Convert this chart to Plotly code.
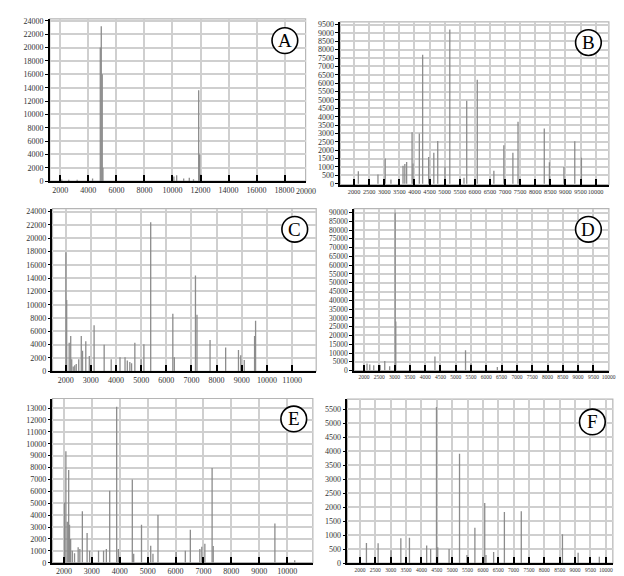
import plotly.graph_objects as go

# ---------------- data (m/z, intensity) ----------------
a_mz = [2100, 2600, 3200, 4000, 4300, 4850, 4920, 4990, 5040, 10100, 10300, 10800, 11200, 11500, 11870, 11940, 12010]
a_int = [250, 200, 200, 700, 400, 20000, 23200, 16000, 2000, 700, 900, 400, 500, 300, 13600, 4000, 1000]

b_mz = [2140, 2790, 3030, 3220, 3620, 3680, 3740, 3920, 3950, 4160, 4270, 4470, 4640, 4770, 5010, 5170,
        5640, 5730, 6080, 6630, 6960, 7260, 7430, 8300, 8470, 8950, 9310, 9530]
b_int = [740, 550, 1500, 250, 1070, 1180, 1300, 3070, 1200, 3000, 7700, 1600, 1850, 2550, 1030, 9200,
         350, 4950, 6200, 780, 2300, 1850, 3700, 3300, 1280, 1000, 2530, 1550]

c_mz = [2010, 2040, 2140, 2200, 2240, 2300, 2360, 2420, 2520, 2620, 2670, 2800, 2940, 3130, 3530, 3810,
        4160, 4360, 4450, 4550, 4620, 4750, 5000, 5110, 5380, 6260, 6320, 7160, 7220, 7740, 8360, 8870,
        8960, 9100, 9510, 9550]
c_int = [17900, 10700, 4300, 5300, 1800, 700, 900, 1100, 1800, 5300, 3100, 4500, 2300, 6900, 4000, 1800,
         2100, 2100, 1600, 1400, 1200, 4300, 1800, 4060, 22400, 8660, 2100, 14400, 8500, 4700, 3560, 3200,
         2400, 1700, 5300, 7600]

d_mz = [2100, 2190, 2320, 2530, 2680, 2840, 3020, 3040, 4320, 5320, 5500, 6360]
d_int = [4000, 3500, 3000, 3200, 5500, 2500, 90000, 28000, 8000, 11500, 4000, 2000]

e_mz = [2020, 2070, 2120, 2170, 2200, 2240, 2300, 2380, 2510, 2570, 2660, 2830, 2920, 3240, 3420, 3520,
        3640, 3890, 3950, 4450, 4500, 4780, 5110, 5190, 5370, 6020, 6350, 6530, 6870, 6940, 7050, 7310,
        7350, 9560, 10270]
e_int = [5060, 9370, 3450, 7800, 3200, 2000, 1000, 800, 1300, 1150, 4330, 2500, 1000, 1000, 1000, 1150,
         6050, 13100, 1150, 7000, 750, 3180, 1430, 750, 4000, 900, 1000, 2770, 1150, 1350, 1600, 7950,
         1400, 3300, 200]

f_mz = [2210, 2590, 3010, 3330, 3610, 4170, 4300, 4490, 4530, 4900, 5240, 5480, 5740, 6060, 6100, 6350,
        6700, 7250, 8590, 9100, 9790]
f_int = [720, 710, 460, 890, 910, 630, 510, 5570, 570, 510, 3900, 290, 1260, 2150, 290, 400,
         1830, 1850, 1030, 370, 230]

panel_labels = ["A", "B", "C", "D", "E", "F"]

# ---------------- layout constants ----------------
W, H = 624, 576
FONT = "Liberation Serif"
GRID = "#cfcfcf"
PEAK = "#8c8c8c"

# (left, right, top, bottom) pixel box of every plot area
boxes = [
    (42.3, 301.0, 9.0, 173.3),
    (336.0, 607.7, 12.0, 176.7),
    (45.0, 311.7, 201.0, 365.7),
    (350.0, 607.7, 201.0, 365.0),
    (45.0, 308.3, 393.3, 559.5),
    (343.3, 611.7, 394.0, 560.0),
]
xranges = [[1250, 19500], [1540, 10440], [1476, 11960], [1677, 10006], [1590, 10920], [1592, 10230]]
yranges = [[0, 24300], [-50, 9660], [0, 24450], [0, 92250], [0, 13800], [0, 5850]]
xdticks = [2000, 500, 1000, 500, 1000, 500]
ydticks = [2000, 500, 2000, 5000, 1000, 500]
xfs = [8, 6.3, 8, 5.5, 8, 5.5]
yfs = [8, 8, 8, 7.5, 8, 8]
circles = [(280, 31), (587, 33), (290, 222), (587, 222), (289, 414), (591, 417)]

datasets = [(a_mz, a_int), (b_mz, b_int), (c_mz, c_int), (d_mz, d_int), (e_mz, e_int), (f_mz, f_int)]


def stems(mz, inten):
    xs, ys = [], []
    for m, v in zip(mz, inten):
        xs += [m, m, None]
        ys += [0, v, None]
    return xs, ys


fig = go.Figure()
layout = dict(
    width=W, height=H, margin=dict(l=0, r=0, t=0, b=0),
    paper_bgcolor="white", plot_bgcolor="white", showlegend=False,
    font=dict(family=FONT, color="#333"),
)
shapes, annotations = [], []

for i, ((mz, inten), box) in enumerate(zip(datasets, boxes)):
    n = "" if i == 0 else str(i + 1)
    l, r, t, b = box
    xs, ys = stems(mz, inten)
    fig.add_trace(go.Scatter(x=xs, y=ys, mode="lines", xaxis="x" + n, yaxis="y" + n,
                             line=dict(color=PEAK, width=1.3), hoverinfo="skip"))
    layout["xaxis" + n] = dict(
        domain=[l / W, r / W], anchor="y" + n, range=xranges[i], tick0=0, dtick=xdticks[i],
        showgrid=True, gridcolor=GRID, gridwidth=1.5, zeroline=False,
        showline=True, linecolor="black", linewidth=2,
        ticks="inside", ticklen=6, tickwidth=2, tickcolor="black",
        tickangle=0, tickfont=dict(size=xfs[i], family=FONT, color="#333"),
        tickformat="d", ticklabelstandoff=0,
        fixedrange=True,
    )
    layout["yaxis" + n] = dict(
        domain=[1 - b / H, 1 - t / H], anchor="x" + n, range=yranges[i], tick0=0, dtick=ydticks[i],
        showgrid=True, gridcolor=GRID, gridwidth=1.5, zeroline=False,
        showline=True, linecolor="black", linewidth=1.5,
        ticks="outside", ticklen=3, tickwidth=1, tickcolor="black",
        tickfont=dict(size=yfs[i], family=FONT, color="#333"),
        tickformat="d",
        fixedrange=True,
    )
    # grey frame (top / right)
    shapes.append(dict(type="rect", xref="x" + n + " domain", yref="y" + n + " domain",
                       x0=0, x1=1, y0=0, y1=1, line=dict(color="#b5b5b5", width=1.2), layer="below"))
    # circled panel label
    cx, cy = circles[i]
    rad = 13
    shapes.append(dict(type="circle", xref="paper", yref="paper",
                       x0=(cx - rad) / W, x1=(cx + rad) / W, y0=1 - (cy + rad) / H, y1=1 - (cy - rad) / H,
                       line=dict(color="black", width=1.6), fillcolor="white", layer="above"))
    annotations.append(dict(text=panel_labels[i], x=cx / W, y=1 - cy / H, xref="paper", yref="paper",
                            showarrow=False, font=dict(family=FONT, size=19, color="black"),
                            xanchor="center", yanchor="middle"))

# last tick label of panel A sits on the right edge
annotations.append(dict(text="20000", xref="x domain", yref="paper", x=1.0, y=1 - 177 / H,
                        showarrow=False, xanchor="center", yanchor="top",
                        font=dict(family=FONT, size=8, color="#333")))

layout["shapes"] = shapes
layout["annotations"] = annotations
fig.update_layout(**layout)
fig.write_html("out.html")
